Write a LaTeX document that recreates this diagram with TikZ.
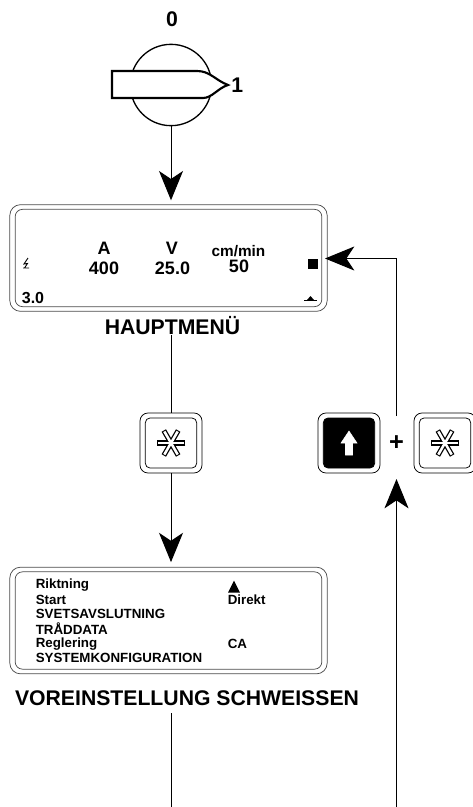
\documentclass[tikz,border=0pt]{standalone}
\usepackage{fontspec}
\setsansfont{Liberation Sans}
\usetikzlibrary{positioning,arrows.meta,shapes.geometric,calc}
\tikzset{
  screen/.style={rectangle, rounded corners=8pt, draw=#1, line width=0.55pt,
                 minimum width=238pt, minimum height=80pt, inner sep=0pt},
  screenin/.style={rectangle, rounded corners=5.5pt, draw=#1, line width=0.55pt,
                 minimum width=230pt, minimum height=73pt, inner sep=0pt},
  keyout/.style={rectangle, rounded corners=6pt, draw=black, line width=0.55pt,
                 minimum width=46.5pt, minimum height=45pt, inner sep=0pt},
  keyin/.style={rectangle, rounded corners=3.5pt, draw=black, line width=0.55pt,
                 minimum width=38.5pt, minimum height=37.5pt, inner sep=0pt},
  ar/.style={-{Stealth[length=22pt,width=18pt,inset=6pt]}, line width=0.75pt, draw=black},
  ln/.style={line width=0.75pt, draw=black},
  big/.style={font=\sffamily\bfseries\fontsize{15.9pt}{18pt}\selectfont, inner sep=0pt},
  val/.style={font=\sffamily\bfseries\fontsize{13.5pt}{15pt}\selectfont, inner sep=0pt},
  menu/.style={font=\sffamily\bfseries\fontsize{10pt}{11pt}\selectfont, inner sep=0pt, anchor=west},
  star/.pic={
    \foreach \a in {0,60,120} \draw[line width=3.8pt, black] (\a:10.8pt) -- (\a+180:10.8pt);
    \foreach \a in {0,60,120} \draw[line width=1.9pt, white] (\a:10pt) -- (\a+180:10pt);
  },
}
\begin{document}
\begin{tikzpicture}[x=0.75pt,y=-0.75pt]
  \useasboundingbox (0,0) rectangle (473,807);

  % selector switch
  \node[big] (zero) at (172,19) {0};
  \node[circle, draw=black, line width=1pt, minimum size=61pt, inner sep=0pt] (sw) at (171,85) {};
  \path[draw=black, fill=white, line width=1.6pt] (112,71) -- (197,71) .. controls (210,71) and (215,80) .. (228,85)
    .. controls (218,88) and (212,98) .. (203,98) -- (112,98) -- cycle;
  \node[big, anchor=west] (one) at (231,85) {1};

  % main menu screen
  \node[screen=black!70] (hm) at (168.5,258) {};
  \node[screenin=black!70] (hmi) at (168.5,258) {};
  \node[big] (hmlbl) at (172.5,326) {HAUPTMEN\"U};
  \node[val] (ampu) at (104,248) {A};
  \node[val] (ampv) at (104,268) {400};
  \node[val] (voltu) at (172,248) {V};
  \node[val] (voltv) at (172.5,268) {25.0};
  \node[val, font=\sffamily\bfseries\fontsize{11.5pt}{13pt}\selectfont] (speedu) at (238.5,251) {cm/min};
  \node[val] (speedv) at (239,266) {50};
  \node[val, font=\sffamily\bfseries\fontsize{12pt}{13pt}\selectfont] (wire) at (33,298) {3.0};
  \node[rectangle, fill=black, minimum size=8pt, inner sep=0pt] (mark) at (313,264) {};
  \draw[line width=0.7pt] (23,268) -- (29,268) (28,258) -- (24,264) -- (27.5,263.5) -- (24.5,268);
  \draw[line width=0.6pt] (304,300) -- (317,300);
  \fill (307,300) -- (310.5,296) -- (314,300) -- cycle;
  \coordinate (entry) at (325,258.5);

  % keys
  \node[keyout] (keya) at (171,443) {};
  \node[keyin] (keyai) at (171,443) {};
  \pic at (keya) {star};
  \node[keyout] (keyb) at (349,443) {};
  \node[keyin, fill=black] (keybi) at (349,443) {};
  \draw[white, fill=white] (345.5,455) -- (345.5,443) -- (341,443) -- (349,431) -- (357,443) -- (352.5,443) -- (352.5,455) -- cycle;
  \node[val, font=\sffamily\bfseries\fontsize{19pt}{20pt}\selectfont] (plus) at (396.5,443) {+};
  \node[keyout] (keyc) at (445,443) {};
  \node[keyin] (keyci) at (445,443) {};
  \pic at (keyc) {star};
  \coordinate (plustop) at (396.5,416);
  \coordinate (plusbot) at (396.5,479);
  \coordinate (botr) at (396.5,807);

  % settings screen
  \node[screen=black!70] (vs) at (168.5,620.5) {};
  \node[screenin=black!70] (vsi) at (168.5,620.5) {};
  \node[menu] (m1) at (35.5,585) {Riktning};
  \node[menu] (m2) at (35.5,600) {Start};
  \node[menu] (m3) at (35.5,614) {SVETSAVSLUTNING};
  \node[menu] (m4) at (35.5,629) {TR\AA DDATA};
  \node[menu] (m5) at (35.5,644) {Reglering};
  \node[menu] (m6) at (35.5,658) {SYSTEMKONFIGURATION};
  \node[menu] (v2) at (227.5,600) {Direkt};
  \node[menu] (v5) at (227.5,644) {CA};
  \fill (228,592.5) -- (234,580.5) -- (240,592.5) -- cycle;
  \node[big] (vslbl) at (187,698) {VOREINSTELLUNG SCHWEISSEN};
  \coordinate (vsout) at (171.5,713);
  \coordinate (botl) at (171.5,807);

  \draw[ar, shorten >=3pt] (sw.south) -- (sw.south |- hm.north);
  \draw[ln] (hmlbl.south -| keya.north) -- (keya.north);
  \draw[ar, shorten >=3.5pt] (keya.south) -- (keya.south |- vs.north);
  \draw[ln] (vsout) -- (botl);
  \draw[ar] (botr) -- (plusbot);
  \draw[ar] (plustop) |- (entry);
\end{tikzpicture}
\end{document}
